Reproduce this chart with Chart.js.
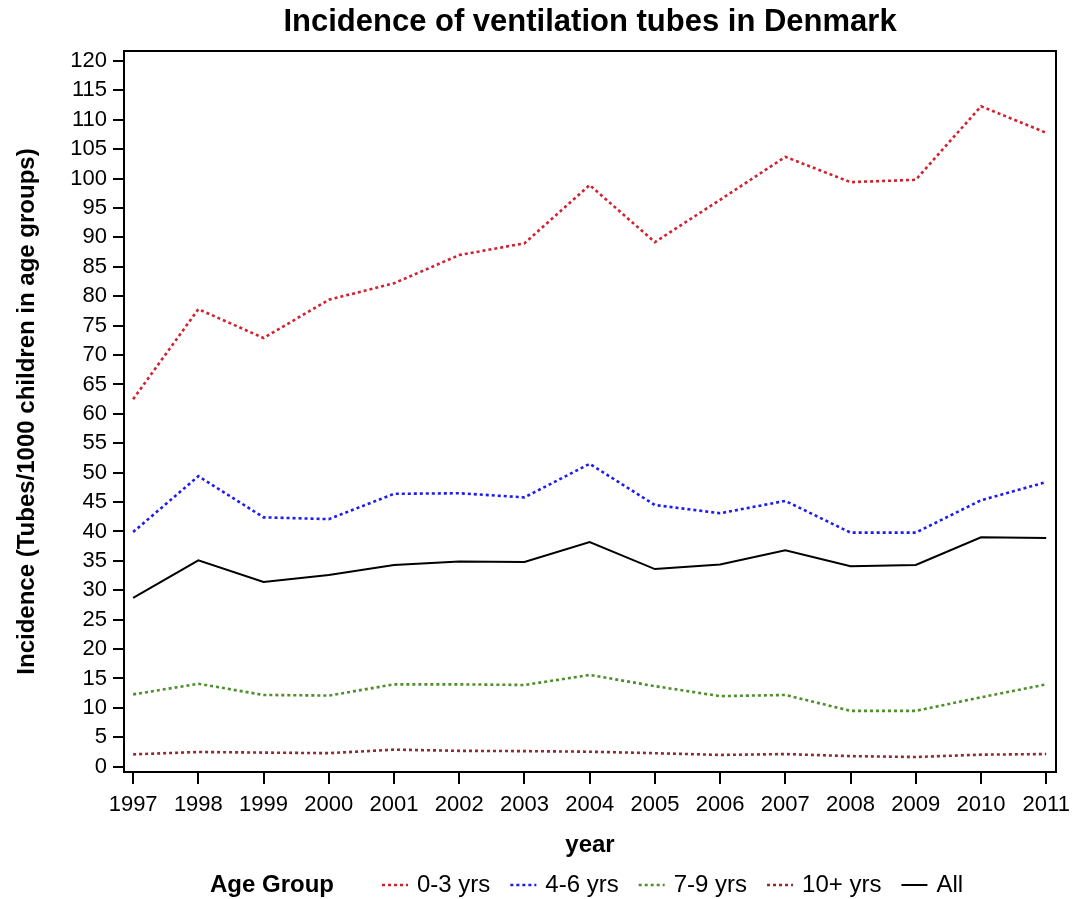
<!DOCTYPE html>
<html>
<head>
<meta charset="utf-8">
<script src="https://cdn.jsdelivr.net/npm/chart.js@4/dist/chart.umd.min.js"></script>
<style>
html,body{margin:0;padding:0;background:#fff;}
#wrap{width:1088px;height:899px;}
</style>
</head>
<body>
<div id="wrap"><canvas id="c" width="1088" height="899"></canvas></div>
<script>
const years = [1997,1998,1999,2000,2001,2002,2003,2004,2005,2006,2007,2008,2009,2010,2011];
const age0to3 = [62.5,77.8,72.9,79.4,82.2,87.0,89.0,98.9,89.2,96.4,103.7,99.4,99.8,112.3,107.8];
const age4to6 = [39.9,49.4,42.4,42.1,46.4,46.5,45.8,51.5,44.5,43.1,45.2,39.8,39.8,45.3,48.4];
const age7to9 = [12.3,14.1,12.2,12.1,14.0,14.0,13.9,15.6,13.7,12.0,12.2,9.5,9.5,11.8,14.0];
const age10plus = [2.1,2.5,2.4,2.3,2.9,2.7,2.65,2.55,2.3,2.0,2.15,1.8,1.65,2.05,2.15];
const ageAll = [28.7,35.1,31.4,32.6,34.3,34.9,34.8,38.2,33.6,34.4,36.8,34.1,34.3,39.0,38.9];
const yTicks = [0,5,10,15,20,25,30,35,40,45,50,55,60,65,70,75,80,85,90,95,100,105,110,115,120];
const seriesNames = ['0-3 yrs','4-6 yrs','7-9 yrs','10+ yrs','All'];
const chartTitle = 'Incidence of ventilation tubes in Denmark';
const legendTitle = 'Age Group';

const FONT = "'Liberation Sans', Arial, Helvetica, sans-serif";
const colors = ['#d2202e','#1c1cf0','#4e8f2c','#8e2b2e','#000000'];
const dashes = [[3,3],[3,3],[3,3],[3,3],[]];
const widths = [2.6,2.6,2.6,2.6,2];
const seriesData = [age0to3, age4to6, age7to9, age10plus, ageAll];

const datasets = seriesData.map((arr, i) => ({
  label: seriesNames[i],
  data: arr.map((v, j) => ({x: years[j], y: v})),
  borderColor: colors[i],
  backgroundColor: colors[i],
  borderDash: dashes[i],
  borderWidth: widths[i],
  pointRadius: 0,
  tension: 0,
  fill: false
}));

const framePlugin = {
  id: 'frame',
  afterDatasetsDraw(chart) {
    const a = chart.chartArea, ctx = chart.ctx;
    ctx.save();
    ctx.strokeStyle = '#000';
    ctx.lineWidth = 2;
    ctx.strokeRect(a.left, a.top, a.right - a.left, a.bottom - a.top);
    ctx.restore();
  }
};

const titlePlugin = {
  id: 'centeredTitle',
  afterDraw(chart) {
    const a = chart.chartArea, ctx = chart.ctx;
    ctx.save();
    ctx.font = "bold 31px " + FONT;
    ctx.fillStyle = '#000';
    ctx.textAlign = 'center';
    ctx.textBaseline = 'middle';
    ctx.fillText(chartTitle, (a.left + a.right) / 2, 22);
    ctx.restore();
  }
};

const legendPlugin = {
  id: 'customLegend',
  afterDraw(chart) {
    const ctx = chart.ctx;
    ctx.save();
    const y = 885;
    const lineLen = 26, gapLT = 9, gapItem = 20, gapTitle = 48;
    let x = 210;
    ctx.textBaseline = 'middle';
    ctx.textAlign = 'left';
    ctx.fillStyle = '#000';
    ctx.font = "bold 24px " + FONT;
    ctx.fillText(legendTitle, x, y);
    x += ctx.measureText(legendTitle).width + gapTitle;
    ctx.font = "24px " + FONT;
    seriesNames.forEach((n, i) => {
      ctx.strokeStyle = colors[i];
      ctx.lineWidth = widths[i];
      ctx.setLineDash(dashes[i]);
      ctx.beginPath();
      ctx.moveTo(x, y);
      ctx.lineTo(x + lineLen, y);
      ctx.stroke();
      ctx.setLineDash([]);
      x += lineLen + gapLT;
      ctx.fillStyle = '#000';
      ctx.fillText(n, x, y);
      x += ctx.measureText(n).width + gapItem;
    });
    ctx.restore();
  }
};

new Chart(document.getElementById('c'), {
  type: 'line',
  data: { datasets },
  options: {
    responsive: false,
    animation: false,
    layout: { padding: { left: 13, right: 32, top: 51, bottom: 39 } },
    plugins: {
      legend: { display: false },
      tooltip: { enabled: false },
      title: { display: false }
    },
    scales: {
      x: {
        type: 'linear',
        min: 1996.86,
        max: 2011.15,
        afterBuildTicks(scale) { scale.ticks = years.map(v => ({ value: v })); },
        afterFit(scale) { scale.height = 88; },
        ticks: {
          color: '#000',
          font: { family: FONT, size: 22 },
          padding: 8,
          maxRotation: 0,
          autoSkip: false,
          callback: v => String(v)
        },
        grid: { drawOnChartArea: false, drawTicks: true, tickLength: 12, color: '#000', lineWidth: 2 },
        border: { display: true, color: '#000', width: 2 },
        title: { display: true, text: 'year', color: '#000', font: { family: FONT, size: 24, weight: 'bold' }, padding: 0 }
      },
      y: {
        type: 'linear',
        min: -0.9,
        max: 121.7,
        afterBuildTicks(scale) { scale.ticks = yTicks.map(v => ({ value: v })); },
        afterFit(scale) { scale.width = 111; },
        ticks: {
          color: '#000',
          font: { family: FONT, size: 22 },
          padding: 6,
          autoSkip: false
        },
        grid: { drawOnChartArea: false, drawTicks: true, tickLength: 11, color: '#000', lineWidth: 2 },
        border: { display: true, color: '#000', width: 2 },
        title: { display: true, text: 'Incidence (Tubes/1000 children in age groups)', color: '#000', font: { family: FONT, size: 24, weight: 'bold' }, padding: 0 }
      }
    }
  },
  plugins: [framePlugin, titlePlugin, legendPlugin]
});
</script>
</body>
</html>
